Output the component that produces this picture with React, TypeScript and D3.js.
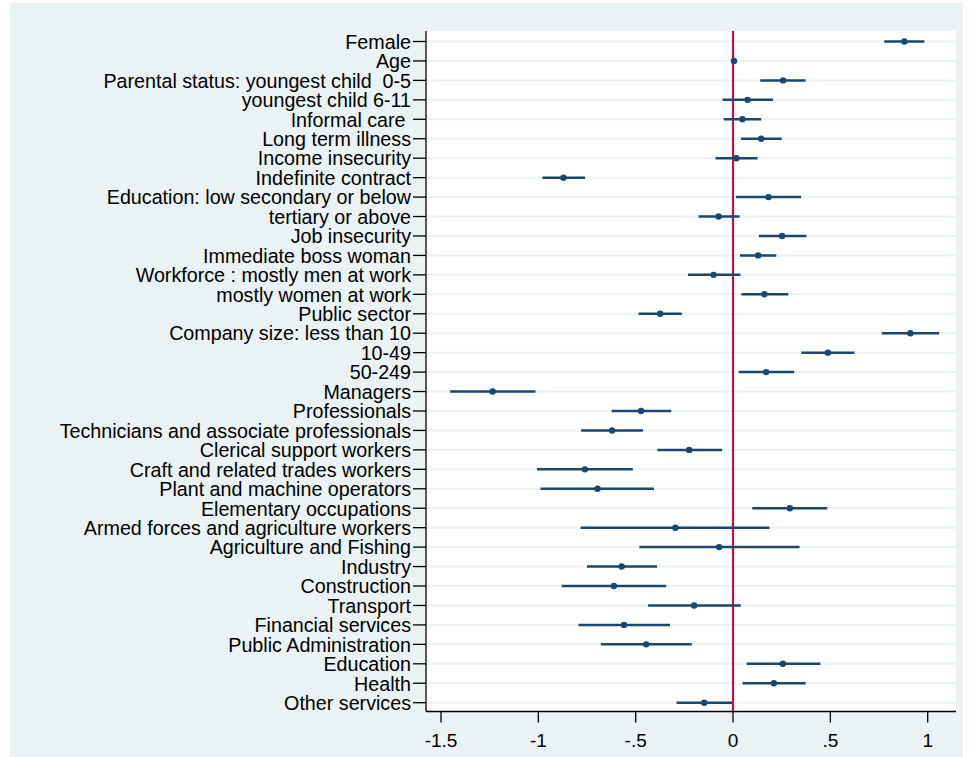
import React from 'react';
import * as d3 from 'd3';

// coefficient labels, top to bottom
const labels = [
  'Female',
  'Age',
  'Parental status: youngest child  0-5',
  'youngest child 6-11',
  'Informal care ',
  'Long term illness',
  'Income insecurity',
  'Indefinite contract',
  'Education: low secondary or below',
  'tertiary or above',
  'Job insecurity',
  'Immediate boss woman',
  'Workforce : mostly men at work',
  'mostly women at work',
  'Public sector',
  'Company size: less than 10',
  '10-49',
  '50-249',
  'Managers',
  'Professionals',
  'Technicians and associate professionals',
  'Clerical support workers',
  'Craft and related trades workers',
  'Plant and machine operators',
  'Elementary occupations',
  'Armed forces and agriculture workers',
  'Agriculture and Fishing',
  'Industry',
  'Construction',
  'Transport',
  'Financial services',
  'Public Administration',
  'Education',
  'Health',
  'Other services',
];

const coef = [
  0.88, 0.005, 0.257, 0.075, 0.048, 0.145, 0.017, -0.871, 0.182, -0.074,
  0.252, 0.129, -0.1, 0.161, -0.374, 0.911, 0.487, 0.17, -1.235, -0.472,
  -0.621, -0.225, -0.761, -0.696, 0.292, -0.296, -0.071, -0.572, -0.612, -0.2,
  -0.56, -0.446, 0.256, 0.21, -0.148,
];

const lower = [
  0.777, 0.002, 0.14, -0.053, -0.048, 0.041, -0.09, -0.979, 0.015, -0.177,
  0.133, 0.036, -0.231, 0.043, -0.485, 0.764, 0.351, 0.029, -1.453, -0.623,
  -0.78, -0.389, -1.007, -0.989, 0.099, -0.783, -0.481, -0.75, -0.88, -0.436,
  -0.794, -0.679, 0.07, 0.049, -0.29,
];

const upper = [
  0.983, 0.008, 0.373, 0.205, 0.145, 0.25, 0.126, -0.76, 0.35, 0.034,
  0.377, 0.222, 0.038, 0.284, -0.263, 1.059, 0.624, 0.314, -1.015, -0.317,
  -0.462, -0.056, -0.515, -0.406, 0.484, 0.187, 0.342, -0.39, -0.343, 0.04,
  -0.324, -0.212, 0.449, 0.373, -0.005,
];

const xTicks = [-1.5, -1, -0.5, 0, 0.5, 1];
const xTickLabels = ['-1.5', '-1', '-.5', '0', '.5', '1'];

const width = 972;
const height = 757;
const plotLeft = 426;
const plotRight = 956;
const plotTop = 31;
const plotBottom = 711.5;

const navy = '#1a476f';
const bg = '#eaf2f3';
const font = '"Liberation Sans", Arial, sans-serif';

const App: React.FC = () => {
  const x = d3.scaleLinear().domain([-1.5, 1]).range([441, 927.7]);
  const y = d3
    .scalePoint<string>()
    .domain(labels)
    .range([41.5, 702.7]);

  return (
    <svg
      width={width}
      height={height}
      style={{ position: 'absolute', left: 0, top: 0 }}
      fontFamily={font}
    >
      <rect x={0} y={0} width={width} height={height} fill="#ffffff" />
      <rect x={10} y={3} width={953} height={height - 3} fill={bg} />
      <rect
        x={plotLeft}
        y={plotTop}
        width={plotRight - plotLeft}
        height={plotBottom - plotTop}
        fill="#ffffff"
      />

      {/* horizontal grid lines */}
      {labels.map((l) => (
        <line
          key={'g' + l}
          x1={plotLeft}
          x2={plotRight}
          y1={y(l)}
          y2={y(l)}
          stroke={bg}
          strokeWidth={2}
        />
      ))}

      {/* reference line at zero */}
      <line
        x1={x(0)}
        x2={x(0)}
        y1={plotTop}
        y2={plotBottom}
        stroke="#c8103c"
        strokeWidth={2.2}
      />

      {/* confidence intervals and point estimates */}
      {labels.map((l, i) => (
        <g key={'c' + l}>
          <line
            x1={x(lower[i])}
            x2={x(upper[i])}
            y1={y(l)}
            y2={y(l)}
            stroke={navy}
            strokeWidth={2.5}
          />
          <circle cx={x(coef[i])} cy={y(l)} r={3.2} fill={navy} />
        </g>
      ))}

      {/* y axis */}
      <line
        x1={plotLeft}
        x2={plotLeft}
        y1={plotTop}
        y2={plotBottom}
        stroke="#000"
        strokeWidth={1.3}
      />
      {labels.map((l) => (
        <g key={'t' + l}>
          <line
            x1={plotLeft - 13}
            x2={plotLeft}
            y1={y(l)}
            y2={y(l)}
            stroke="#000"
            strokeWidth={1.3}
          />
          <text
            x={plotLeft - 15}
            y={y(l)}
            dy="0.37em"
            textAnchor="end"
            fontSize={19.7}
            fill="#000"
            style={{ whiteSpace: 'pre' }}
          >
            {l}
          </text>
        </g>
      ))}

      {/* x axis */}
      <line
        x1={plotLeft}
        x2={plotRight}
        y1={plotBottom}
        y2={plotBottom}
        stroke="#000"
        strokeWidth={1.3}
      />
      {xTicks.map((t, i) => (
        <g key={'x' + t}>
          <line
            x1={x(t)}
            x2={x(t)}
            y1={plotBottom}
            y2={plotBottom + 11}
            stroke="#000"
            strokeWidth={1.3}
          />
          <text
            x={x(t)}
            y={747}
            textAnchor="middle"
            fontSize={19}
            fill="#000"
          >
            {xTickLabels[i]}
          </text>
        </g>
      ))}
    </svg>
  );
};

export default App;
